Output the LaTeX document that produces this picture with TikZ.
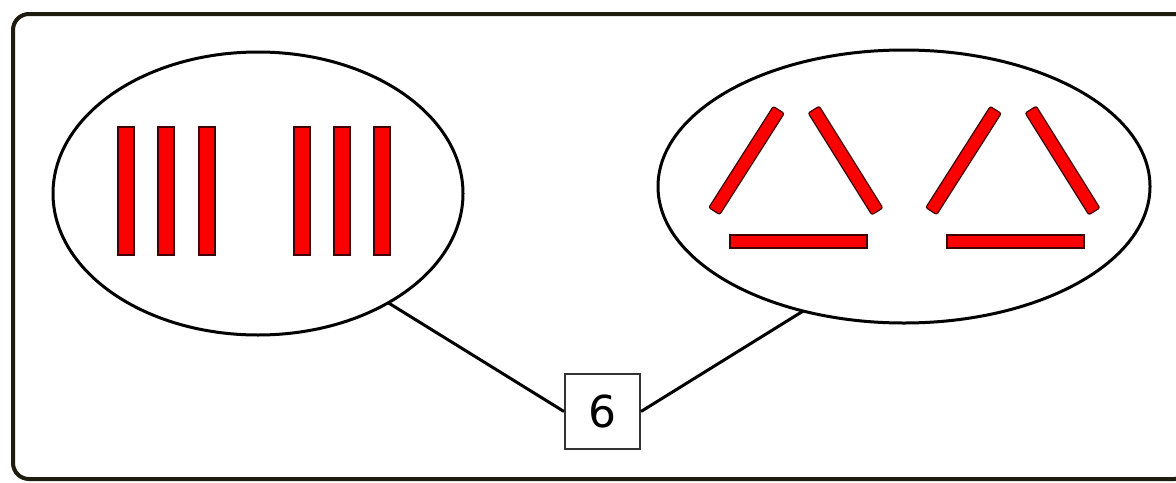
\documentclass[tikz,border=0pt]{standalone}
\usepackage{fontspec}
\setsansfont{DejaVu Sans}
\usetikzlibrary{shapes.geometric}
\definecolor{framecol}{RGB}{30,28,15}
\definecolor{barred}{RGB}{250,0,0}
\begin{document}
\begin{tikzpicture}[x=0.5pt,y=-0.5pt,
  frame/.style={draw=framecol,line width=2pt,rounded corners=8pt},
  oval/.style={ellipse,draw=black,line width=1.5pt,inner sep=0pt,outer sep=0pt},
  bar/.style={fill=barred,draw=black!75!red,line width=0.6pt},
  link/.style={draw=black,line width=1.5pt},
  numbox/.style={draw=black!80,line width=1pt,minimum width=37.5pt,minimum height=37.5pt,inner sep=0pt,font=\sffamily\fontsize{22}{24}\selectfont}]
\useasboundingbox (0,0) rectangle (1176,482);
\begin{scope}
\clip (0,0) rectangle (1176,482);
\draw[frame] (13,14) rectangle (1190,479);
\end{scope}
% ellipses
\node[oval,minimum width=205pt,minimum height=141.5pt] (L) at (258,193.5) {};
\node[oval,minimum width=246pt,minimum height=136.5pt] (R) at (904,186.5) {};
% number box
\node[numbox] (n) at (602.5,411.5) {6};
% connectors
\draw[link] (L.-40) -- (n.west);
\draw[link] (R.-129) -- (n.east);
% vertical bars
\foreach \cx in {126,166,207,302,342,382}{
  \draw[bar] (\cx-8,127) rectangle (\cx+8,255);
}
% triangles
\foreach \dx in {0,217}{
  \begin{scope}[xshift=\dx*0.5pt]
    \draw[bar,rounded corners=1pt,rotate around={57.5:(746.5,160.5)}] (746.5-60,160.5-6.5) rectangle (746.5+60,160.5+6.5);
    \draw[bar,rounded corners=1pt,rotate around={-58:(845.5,160.5)}] (845.5-60,160.5-6.5) rectangle (845.5+60,160.5+6.5);
    \draw[bar] (730,235) rectangle (867,248);
  \end{scope}
}
\end{tikzpicture}
\end{document}
